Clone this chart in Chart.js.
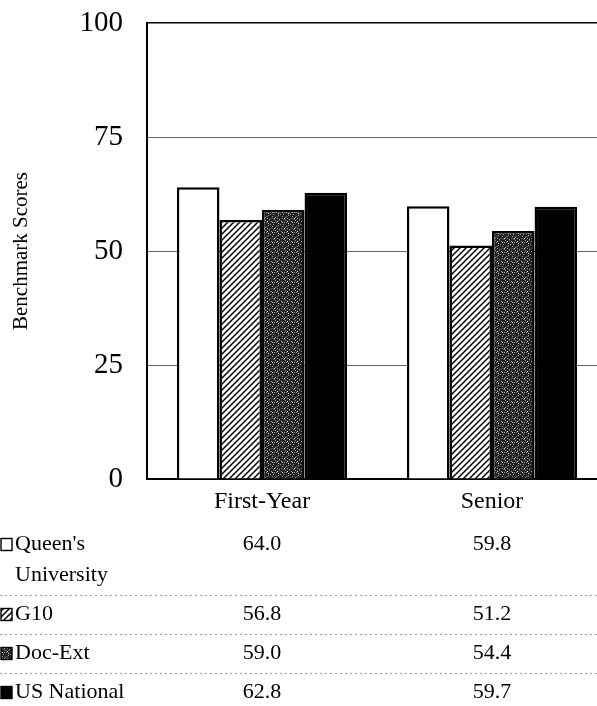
<!DOCTYPE html>
<html lang="en">
<head>
  <meta charset="UTF-8">
  <title>Benchmark Scores</title>
  <script src="https://cdn.jsdelivr.net/npm/chart.js"></script>
  <style>
    html, body { margin: 0; padding: 0; background: #fff; overflow: hidden; }
    #wrap { width: 597px; height: 706px; overflow: hidden; }
  </style>
</head>
<body>
  <div id="wrap">
    <canvas id="benchChart" width="607" height="706"></canvas>
  </div>

  <script>
    // data
    const categories = ['First-Year', 'Senior'];
    const seriesNames = ["Queen's University", 'G10', 'Doc-Ext', 'US National'];
    const queensScores = [64.0, 59.8];
    const g10Scores = [56.8, 51.2];
    const docExtScores = [59.0, 54.4];
    const usNationalScores = [62.8, 59.7];
    const yTicks = [0, 25, 50, 75, 100];

    const serif = '"Liberation Serif", "Times New Roman", serif';

    // fill patterns like the printed original
    function hatchPattern() {
      const c = document.createElement('canvas');
      c.width = 6; c.height = 6;
      const g = c.getContext('2d');
      g.fillStyle = '#fff';
      g.fillRect(0, 0, 6, 6);
      g.strokeStyle = '#000';
      g.lineWidth = 1.5;
      g.beginPath();
      g.moveTo(0, 6); g.lineTo(6, 0);
      g.moveTo(-1, 1); g.lineTo(1, -1);
      g.moveTo(5, 7); g.lineTo(7, 5);
      g.stroke();
      return g.createPattern(c, 'repeat');
    }

    function speckPattern() {
      const c = document.createElement('canvas');
      c.width = 10; c.height = 10;
      const g = c.getContext('2d');
      g.fillStyle = '#222';
      g.fillRect(0, 0, 10, 10);
      g.fillStyle = '#9a9a9a';
      [[1, 1], [4, 2], [8, 5], [2, 6], [5, 0], [0, 4], [7, 8], [3, 4], [6, 2], [9, 9], [5, 7]].forEach(p => g.fillRect(p[0], p[1], 1, 1));
      g.fillStyle = '#dcdcdc';
      [[2, 2], [7, 1], [4, 8], [8, 3]].forEach(p => g.fillRect(p[0], p[1], 1, 1));
      g.fillStyle = '#555';
      [[6, 6], [1, 8], [9, 0], [3, 9]].forEach(p => g.fillRect(p[0], p[1], 2, 1));
      return g.createPattern(c, 'repeat');
    }

    const fills = ['#ffffff', hatchPattern(), speckPattern(), '#000000'];
    const seriesValues = [queensScores, g10Scores, docExtScores, usNationalScores];

    // data table under the chart, columns follow the x scale
    const dataTable = {
      id: 'dataTable',
      afterDraw(chart) {
        const ctx = chart.ctx;
        const x = chart.scales.x;
        const lineH = 31;
        let top = 525;
        ctx.save();
        ctx.font = '22px ' + serif;
        ctx.textBaseline = 'middle';
        ctx.fillStyle = '#000';

        seriesNames.forEach((name, i) => {
          // wrap the name into the label column
          const words = name.split(' ');
          const lines = [];
          let cur = '';
          words.forEach(w => {
            const test = cur ? cur + ' ' + w : w;
            if (ctx.measureText(test).width > 125 && cur) { lines.push(cur); cur = w; }
            else cur = test;
          });
          lines.push(cur);

          const rowH = lines.length * lineH + 8;
          const firstMid = top + 4 + lineH / 2;

          // swatch
          ctx.fillStyle = fills[i];
          ctx.fillRect(1, firstMid - 6, 11, 12);
          ctx.strokeStyle = '#000';
          ctx.lineWidth = 1.4;
          ctx.strokeRect(1, firstMid - 6, 11, 12);

          ctx.fillStyle = '#000';
          ctx.textAlign = 'left';
          lines.forEach((l, k) => ctx.fillText(l, 15, firstMid + k * lineH));

          ctx.textAlign = 'center';
          seriesValues[i].forEach((v, j) => {
            ctx.fillText(v.toFixed(1), x.getPixelForValue(j), firstMid);
          });

          top += rowH;
          if (i < seriesNames.length - 1) {
            ctx.strokeStyle = '#9a9a9a';
            ctx.lineWidth = 1;
            ctx.setLineDash([2, 3]);
            ctx.beginPath();
            ctx.moveTo(0, top + 0.5);
            ctx.lineTo(chart.width, top + 0.5);
            ctx.stroke();
            ctx.setLineDash([]);
          }
        });
        ctx.restore();
      }
    };

    new Chart(document.getElementById('benchChart'), {
      type: 'bar',
      data: {
        labels: categories,
        datasets: seriesNames.map((name, i) => ({
          label: name,
          data: seriesValues[i],
          backgroundColor: fills[i],
          borderColor: '#000',
          borderWidth: 2.5,
          barPercentage: 1,
          categoryPercentage: 0.74
        }))
      },
      options: {
        responsive: false,
        animation: false,
        events: [],
        layout: { padding: { top: 23, right: 0, left: 0, bottom: 0 } },
        plugins: {
          legend: { display: false },
          tooltip: { enabled: false }
        },
        scales: {
          x: {
            grid: { display: false, drawTicks: false },
            border: { color: '#000', width: 2 },
            ticks: { color: '#000', padding: 8, font: { family: serif, size: 24 } },
            afterFit: s => { s.height = 227; }
          },
          y: {
            min: 0,
            max: 100,
            afterBuildTicks: s => { s.ticks = yTicks.map(v => ({ value: v })); },
            grid: {
              color: c => c.tick && c.tick.value === 100 ? '#000' : '#666',
              lineWidth: c => c.tick && c.tick.value === 100 ? 1.5 : 1,
              drawTicks: false
            },
            border: { color: '#000', width: 2 },
            ticks: { color: '#000', padding: 24, font: { family: serif, size: 29 } },
            title: {
              display: true,
              text: 'Benchmark Scores',
              color: '#000',
              padding: { top: 9 },
              font: { family: serif, size: 21 }
            },
            afterFit: s => { s.width = 147; s.paddingTop = 0; s.paddingBottom = 0; }
          }
        }
      },
      plugins: [dataTable]
    });
  </script>
</body>
</html>
